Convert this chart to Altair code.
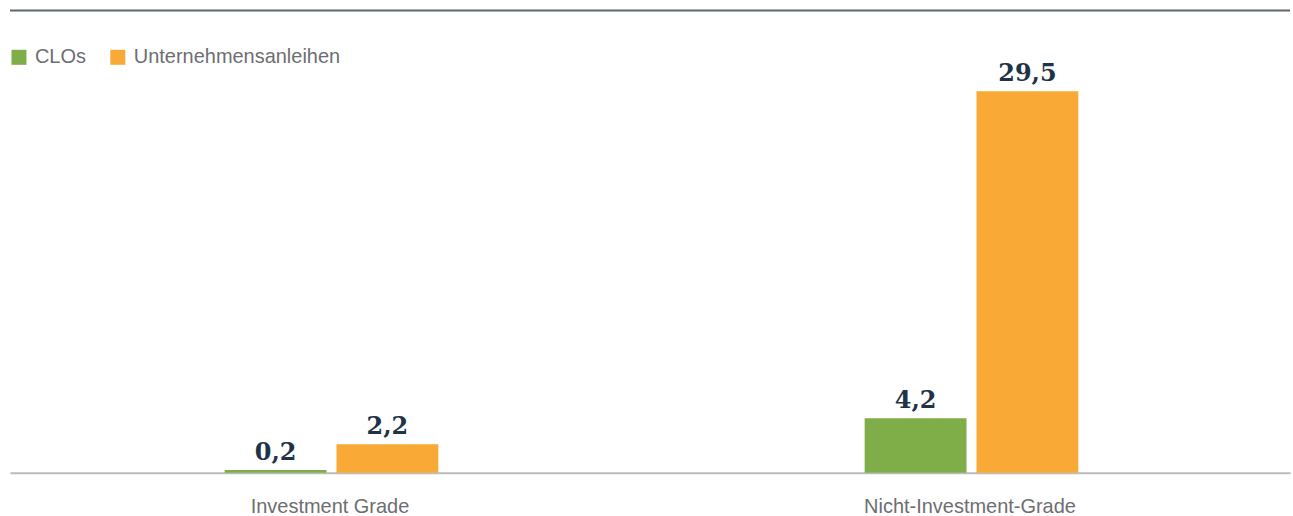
import altair as alt
import pandas as pd

categories = ["Investment Grade", "Nicht-Investment-Grade"]
series = ["CLOs", "Unternehmensanleihen"]
clo_values = [0.2, 4.2]
corp_values = [2.2, 29.5]
colors = ["#7fad47", "#f9a935"]

rows = []
for i, c in enumerate(categories):
    rows.append({"cat": c, "series": series[0], "value": clo_values[i],
                 "label": f"{clo_values[i]:.1f}".replace(".", ",")})
    rows.append({"cat": c, "series": series[1], "value": corp_values[i],
                 "label": f"{corp_values[i]:.1f}".replace(".", ",")})
df = pd.DataFrame(rows)

W, H = 1282, 463

x = alt.X("cat:N", sort=categories, title=None,
          scale=alt.Scale(paddingInner=0, paddingOuter=0),
          axis=alt.Axis(labelAngle=0, ticks=False, labelPadding=24, labelLimit=0,
                        labelFontSize=20, labelColor="#6d6e71",
                        labelFont="Liberation Sans", domainColor="#b8bcbc",
                        domainWidth=2))
xo = alt.XOffset("series:N", sort=series,
                 scale=alt.Scale(range=[215, 429], paddingInner=0.0893, paddingOuter=0))
y = alt.Y("value:Q", scale=alt.Scale(domain=[0, 35.75], nice=False), axis=None)

bars = alt.Chart(df).mark_bar().encode(
    x=x, xOffset=xo, y=y,
    color=alt.Color("series:N", sort=series,
                    scale=alt.Scale(domain=series, range=colors),
                    legend=alt.Legend(title=None, orient="none", direction="horizontal",
                                      legendX=-1, legendY=37, symbolType="square",
                                      symbolSize=225, symbolStrokeWidth=0,
                                      labelFontSize=20, labelColor="#6d6e71",
                                      labelFont="Liberation Sans", labelOffset=6,
                                      labelLimit=0, columnPadding=21, symbolOpacity=1)),
)

labels = alt.Chart(df).mark_text(font="DejaVu Serif", fontWeight="bold", fontSize=24,
                                 color="#1f3347", baseline="alphabetic", dy=-10).encode(
    x=x, xOffset=xo, y=y, text="label:N")

top_rule = alt.Chart(pd.DataFrame({"a": [0]})).mark_rule(color="#5d6770", strokeWidth=2).encode(
    x=alt.value(0), x2=alt.value(W), y=alt.value(0))

chart = alt.layer(top_rule, bars, labels).properties(
    width=W, height=H, padding={"left": 9, "top": 9, "right": 2, "bottom": 0}
).configure_view(stroke=None)

chart.save("out.html", embed_options={"renderer": "svg", "actions": False})
